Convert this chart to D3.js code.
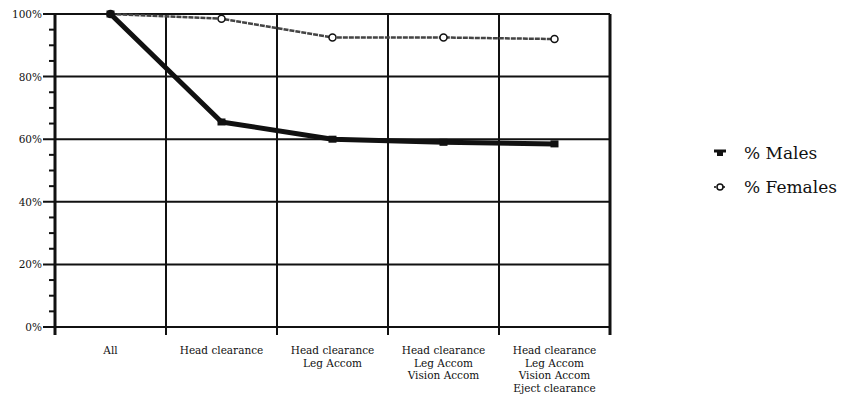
<html><head>
<script src="https://d3js.org/d3.v7.min.js"></script>
<style>
  body { margin: 0; background: #fff; }
  svg text { font-family: "DejaVu Serif"; }
</style>
</head>
<body>
<script>
  // categories (multi-line labels) and series values in percent
  var categories = [
    ["All"],
    ["Head clearance"],
    ["Head clearance", "Leg Accom"],
    ["Head clearance", "Leg Accom", "Vision Accom"],
    ["Head clearance", "Leg Accom", "Vision Accom", "Eject clearance"]
  ];
  var males = [100, 65.5, 60, 59, 58.5];
  var females = [100, 98.5, 92.5, 92.5, 92];
  var yTicks = [0, 20, 40, 60, 80, 100];
  var seriesNames = ["% Males", "% Females"];

  let width = 846;
  let height = 410;
  let margin = { top: 14, left: 55, right: 236, bottom: 83 };
  let chartWidth = width - margin.left - margin.right;
  let chartHeight = height - margin.top - margin.bottom;

  let svg = d3.select("body").append("svg").attr("width", width).attr("height", height);
  let chart = svg.append("g").attr("transform", "translate(" + margin.left + "," + margin.top + ")");

  let xScale = d3.scaleBand().domain(d3.range(categories.length)).range([0, chartWidth]);
  let yScale = d3.scaleLinear().domain([0, 100]).range([chartHeight, 0]);

  // horizontal grid
  yTicks.forEach(function(t) {
    chart.append("line").attr("x1", -12).attr("x2", chartWidth)
      .attr("y1", yScale(t)).attr("y2", yScale(t))
      .attr("stroke", "#111").attr("stroke-width", 2);
  });
  // minor ticks every 5%
  for (let v = 5; v < 100; v += 5) {
    if (v % 20 == 0) continue;
    chart.append("line").attr("x1", -6).attr("x2", 0)
      .attr("y1", yScale(v)).attr("y2", yScale(v))
      .attr("stroke", "#111").attr("stroke-width", 2);
  }
  // vertical grid at band edges
  for (let i = 0; i <= categories.length; i++) {
    let x = i < categories.length ? xScale(i) : chartWidth;
    chart.append("line").attr("x1", x).attr("x2", x)
      .attr("y1", 0).attr("y2", chartHeight + 8)
      .attr("stroke", "#111").attr("stroke-width", (i == 0 || i == categories.length) ? 3 : 2);
  }

  // y labels
  yTicks.forEach(function(t) {
    chart.append("text").attr("x", -13).attr("y", yScale(t) + 4)
      .attr("text-anchor", "end").attr("font-size", 10.5).attr("fill", "#111").text(t + "%");
  });

  // x labels
  categories.forEach(function(lines, i) {
    let t = chart.append("text").attr("text-anchor", "middle").attr("font-size", 10.5).attr("fill", "#111")
      .attr("x", xScale(i) + xScale.bandwidth() / 2).attr("y", chartHeight + 27);
    lines.forEach(function(s, j) {
      t.append("tspan").attr("x", xScale(i) + xScale.bandwidth() / 2)
        .attr("dy", j == 0 ? 0 : 12.5).text(s);
    });
  });

  let line = d3.line()
    .x(function(d, i) { return xScale(i) + xScale.bandwidth() / 2; })
    .y(function(d) { return yScale(d); });

  // females
  chart.append("path").datum(females).attr("d", line).attr("fill", "none")
    .attr("stroke", "#444").attr("stroke-width", 2.5).attr("stroke-dasharray", "5,1");
  females.forEach(function(d, i) {
    chart.append("circle").attr("cx", xScale(i) + xScale.bandwidth() / 2).attr("cy", yScale(d))
      .attr("r", 3.5).attr("fill", "#fff").attr("stroke", "#111").attr("stroke-width", 1.5);
  });

  // males
  chart.append("path").datum(males).attr("d", line).attr("fill", "none")
    .attr("stroke", "#111").attr("stroke-width", 5).attr("stroke-linejoin", "round");
  males.forEach(function(d, i) {
    chart.append("rect").attr("x", xScale(i) + xScale.bandwidth() / 2 - 4).attr("y", yScale(d) - 3.5)
      .attr("width", 8).attr("height", 7).attr("fill", "#111");
  });

  // legend
  let legend = svg.append("g").attr("transform", "translate(714,153)");
  seriesNames.forEach(function(name, i) {
    let g = legend.append("g").attr("transform", "translate(0," + (i * 34) + ")");
    if (i == 0) {
      g.append("line").attr("x1", 0).attr("x2", 12).attr("y1", -2).attr("y2", -2)
        .attr("stroke", "#111").attr("stroke-width", 3);
      g.append("rect").attr("x", 3).attr("y", -2).attr("width", 6).attr("height", 5).attr("fill", "#111");
    } else {
      g.append("line").attr("x1", 0).attr("x2", 12).attr("y1", 0).attr("y2", 0)
        .attr("stroke", "#444").attr("stroke-width", 2).attr("stroke-dasharray", "2,1");
      g.append("circle").attr("cx", 6).attr("cy", 0).attr("r", 3)
        .attr("fill", "#fff").attr("stroke", "#111").attr("stroke-width", 1.5);
    }
    g.append("text").attr("x", 30).attr("y", 6).attr("font-size", 17).attr("fill", "#111").text(name);
  });
</script>
</body>
</html>
